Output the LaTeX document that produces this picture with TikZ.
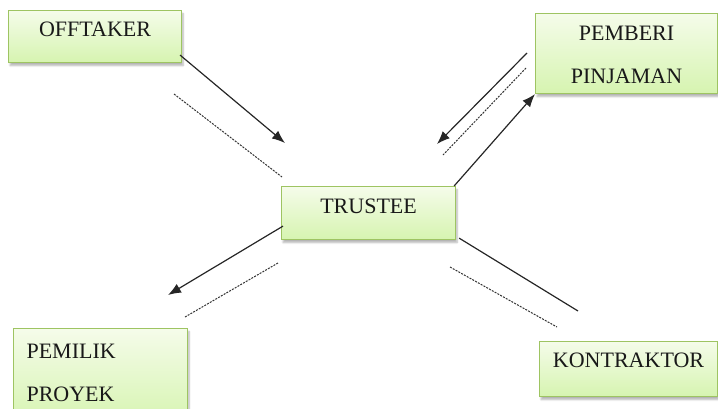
\documentclass[tikz,border=0pt]{standalone}
\usepackage{fontspec}
\setmainfont{Liberation Serif}
\usetikzlibrary{arrows.meta, shadows, shadows.blur, positioning, calc}
\definecolor{boxtop}{RGB}{245,252,234}
\definecolor{boxbot}{RGB}{214,244,176}
\definecolor{boxline}{RGB}{158,196,98}
\tikzset{
    party/.style={
        draw=boxline, line width=1.1pt, top color=boxtop, bottom color=boxbot,
        blur shadow={shadow xshift=1.5pt, shadow yshift=-3pt, shadow blur steps=6, shadow opacity=30},
        inner xsep=0pt, inner ysep=0pt, align=center, anchor=north west,
        font=\fontsize{22}{43}\selectfont, text=black!90
    },
    party size/.style n args={3}{text width=#1, text height=#2, text depth=#3},
    flow/.style={line width=1.2pt, black!85, -{Latex[length=13pt,width=10pt]}},
    link/.style={line width=1.2pt, black!85},
    hint/.style={line width=1pt, black!80, dash pattern=on 2pt off 1.2pt}
}
\begin{document}
\begin{tikzpicture}[x=1pt, y=-1pt]
    \useasboundingbox (0,0) rectangle (718,408);
    % parties
    \node[party, party size={173pt}{26pt}{26pt}] (off) at (8,10) {OFFTAKER};
    \node[party, party size={182pt}{27pt}{53pt}] (pem) at (535,13) {PEMBERI\\PINJAMAN};
    \node[party, party size={174pt}{27pt}{26pt}] (tru) at (281,186) {TRUSTEE};
    \node[party, party size={148pt}{30pt}{66pt}, align=left, inner xsep=13pt] (own) at (13,328) {PEMILIK\\PROYEK};
    \node[party, party size={178pt}{26pt}{29pt}] (kon) at (539,341) {KONTRAKTOR};
    % free ends
    \coordinate (offTip) at (285,143);
    \coordinate (offD1) at (174,94);
    \coordinate (offD2) at (282,177);
    \coordinate (pemTail) at (527,53);
    \coordinate (pemTip) at (437,144);
    \coordinate (pemD1) at (526,68);
    \coordinate (pemD2) at (443,155);
    \coordinate (ownTip) at (168,295);
    \coordinate (ownD1) at (278,263);
    \coordinate (ownD2) at (185,317);
    \coordinate (konEnd) at (578,311);
    \coordinate (konD1) at (450,267);
    \coordinate (konD2) at (557,327);
    % connectors
    \draw[flow] ([xshift=-2pt, yshift=8pt]off.south east) -- (offTip);
    \draw[hint] (offD1) -- (offD2);
    \draw[flow] (pemTail) -- (pemTip);
    \draw[hint] (pemD1) -- (pemD2);
    \draw[flow] ([xshift=-2pt]tru.north east) -- (pem.south west);
    \draw[flow] ([xshift=2pt, yshift=14pt]tru.south west) -- (ownTip);
    \draw[hint] (ownD1) -- (ownD2);
    \draw[link] ([xshift=3pt, yshift=2pt]tru.south east) -- (konEnd);
    \draw[hint] (konD1) -- (konD2);
\end{tikzpicture}
\end{document}
